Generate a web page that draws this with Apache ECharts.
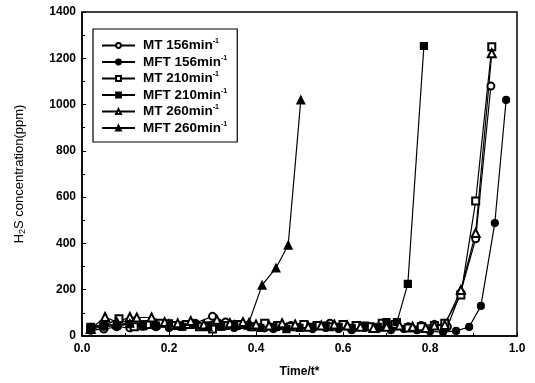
<!DOCTYPE html>
<html>
<head>
<meta charset="utf-8">
<script src="https://cdn.jsdelivr.net/npm/echarts@6/dist/echarts.min.js"></script>
<style>
  html, body { margin: 0; padding: 0; background: #fff; }
  #chart { width: 535px; height: 383px; }
</style>
</head>
<body>
<div id="chart"></div>
<script>
// series names (legend)
const seriesNames = ["MT 156", "MFT 156", "MT 210", "MFT 210", "MT 260", "MFT 260"];
const seriesSymbols = ["emptyCircle", "circle", "emptyRect", "rect", "emptyTriangle", "triangle"];

// values (Time/t*, ppm)
const mt156X = [0.02, 0.05, 0.08, 0.11, 0.14, 0.17, 0.20, 0.23, 0.26, 0.30, 0.33, 0.36, 0.39, 0.42, 0.45, 0.48, 0.51, 0.54, 0.57, 0.60, 0.63, 0.66, 0.69, 0.72, 0.75, 0.78, 0.81, 0.84, 0.87, 0.905, 0.94];
const mt156Y = [25, 30, 40, 35, 45, 40, 50, 45, 55, 85, 60, 45, 40, 35, 40, 45, 50, 45, 55, 50, 45, 40, 50, 45, 40, 45, 50, 40, 185, 420, 1080];

const mft156X = [0.02, 0.05, 0.08, 0.11, 0.14, 0.17, 0.20, 0.23, 0.26, 0.29, 0.32, 0.35, 0.38, 0.41, 0.44, 0.47, 0.50, 0.53, 0.56, 0.59, 0.62, 0.65, 0.68, 0.71, 0.74, 0.77, 0.80, 0.83, 0.86, 0.89, 0.917, 0.949, 0.975];
const mft156Y = [30, 40, 45, 50, 40, 45, 35, 40, 50, 45, 40, 35, 45, 40, 30, 35, 40, 30, 35, 30, 25, 35, 30, 25, 30, 25, 20, 17, 22, 39, 130, 488, 1020];

const mt210X = [0.02, 0.05, 0.085, 0.12, 0.15, 0.18, 0.21, 0.24, 0.27, 0.30, 0.33, 0.36, 0.39, 0.42, 0.45, 0.48, 0.51, 0.54, 0.57, 0.60, 0.63, 0.66, 0.69, 0.72, 0.75, 0.78, 0.81, 0.834, 0.871, 0.905, 0.942];
const mt210Y = [35, 45, 75, 40, 50, 55, 45, 50, 40, 30, 45, 50, 40, 55, 45, 40, 50, 45, 40, 50, 45, 40, 55, 50, 35, 40, 45, 55, 177, 583, 1250];

const mft210X = [0.02, 0.05, 0.08, 0.11, 0.14, 0.17, 0.20, 0.23, 0.26, 0.29, 0.32, 0.35, 0.38, 0.41, 0.44, 0.47, 0.50, 0.53, 0.56, 0.59, 0.62, 0.65, 0.68, 0.70, 0.724, 0.749, 0.786];
const mft210Y = [40, 50, 45, 55, 50, 45, 55, 40, 50, 45, 40, 50, 45, 35, 40, 30, 35, 40, 45, 40, 35, 45, 40, 60, 60, 225, 1253];

const mt260X = [0.02, 0.053, 0.08, 0.11, 0.126, 0.16, 0.19, 0.22, 0.25, 0.28, 0.31, 0.34, 0.37, 0.40, 0.43, 0.46, 0.49, 0.52, 0.55, 0.58, 0.61, 0.64, 0.67, 0.70, 0.73, 0.76, 0.79, 0.81, 0.834, 0.871, 0.905, 0.942];
const mt260Y = [30, 82, 60, 82, 80, 80, 60, 55, 65, 50, 70, 55, 60, 50, 45, 55, 50, 40, 45, 50, 45, 40, 35, 40, 45, 40, 35, 45, 48, 199, 445, 1222];

const mft260X = [0.02, 0.05, 0.08, 0.11, 0.14, 0.17, 0.20, 0.23, 0.26, 0.29, 0.32, 0.35, 0.384, 0.414, 0.446, 0.474, 0.503];
const mft260Y = [35, 45, 50, 55, 45, 50, 55, 45, 50, 40, 45, 50, 60, 220, 294, 393, 1020];

const xTicks = [0.0, 0.2, 0.4, 0.6, 0.8, 1.0];
const yTicks = [0, 200, 400, 600, 800, 1000, 1200, 1400];

const allX = [mt156X, mft156X, mt210X, mft210X, mt260X, mft260X];
const allY = [mt156Y, mft156Y, mt210Y, mft210Y, mt260Y, mft260Y];

const chart = echarts.init(document.getElementById("chart"));
const font = "'Liberation Sans', Arial, sans-serif";

const series = seriesNames.map((name, i) => ({
  name: name,
  type: "line",
  data: allX[i].map((x, j) => [x, allY[i][j]]),
  symbol: seriesSymbols[i],
  symbolSize: seriesSymbols[i].toLowerCase().indexOf("triangle") >= 0 ? 8 : 7,
  showSymbol: true,
  lineStyle: { color: "#000", width: 1.2 },
  itemStyle: { color: "#000", borderColor: "#000", borderWidth: 1.2 },
  emphasis: { disabled: true },
  animation: false
}));

chart.setOption({
  backgroundColor: "#fff",
  animation: false,
  grid: {
    left: 82, right: 18, top: 12, bottom: 47,
    show: true, borderColor: "#000", borderWidth: 1.5
  },
  legend: {
    left: 93, top: 29,
    orient: "vertical",
    itemGap: 2,
    itemWidth: 33,
    itemHeight: 6,
    padding: [9, 10, 7, 8],
    borderColor: "#000",
    borderWidth: 1.2,
    backgroundColor: "#fff",
    formatter: name => "{a|" + name + "min}{s|-1}",
    textStyle: {
      color: "#000",
      rich: {
        a: { fontFamily: font, fontSize: 13.5, fontWeight: "bold", color: "#000", lineHeight: 15, padding: [0, 0, 0, 3] },
        s: { fontFamily: font, fontSize: 7, fontWeight: "bold", color: "#000", padding: [0, 0, 8, 0] }
      }
    },
    data: seriesNames
  },
  xAxis: {
    type: "value",
    min: 0, max: 1, interval: 0.2,
    name: "Time/t*",
    nameLocation: "middle",
    nameGap: 30,
    nameTextStyle: { fontFamily: font, fontSize: 12, fontWeight: "bold", color: "#000" },
    axisLine: { lineStyle: { color: "#000", width: 1.5 } },
    axisTick: { inside: true, length: 4, lineStyle: { color: "#000" } },
    minorTick: { show: true, splitNumber: 2, length: 3, lineStyle: { color: "#000" } },
    splitLine: { show: false },
    axisLabel: {
      fontFamily: font, fontSize: 12, fontWeight: "bold", color: "#000", margin: 7,
      formatter: v => (xTicks.indexOf(+v.toFixed(1)) >= 0 ? v.toFixed(1) : "")
    }
  },
  yAxis: {
    type: "value",
    min: 0, max: 1400, interval: 200,
    name: "{a|H}{b|2}{a|S concentration(ppm)}",
    nameLocation: "middle",
    nameGap: 55,
    nameTextStyle: {
      color: "#000",
      rich: {
        a: { fontFamily: font, fontSize: 13, color: "#000" },
        b: { fontFamily: font, fontSize: 9, color: "#000", padding: [7, 0, 0, 0] }
      }
    },
    axisLine: { lineStyle: { color: "#000", width: 1.5 } },
    axisTick: { inside: true, length: 4, lineStyle: { color: "#000" } },
    minorTick: { show: true, splitNumber: 2, length: 3, lineStyle: { color: "#000" } },
    splitLine: { show: false },
    axisLabel: {
      fontFamily: font, fontSize: 12, fontWeight: "bold", color: "#000", margin: 6,
      formatter: v => (yTicks.indexOf(v) >= 0 ? String(v) : "")
    }
  },
  series: series
});
</script>
</body>
</html>
